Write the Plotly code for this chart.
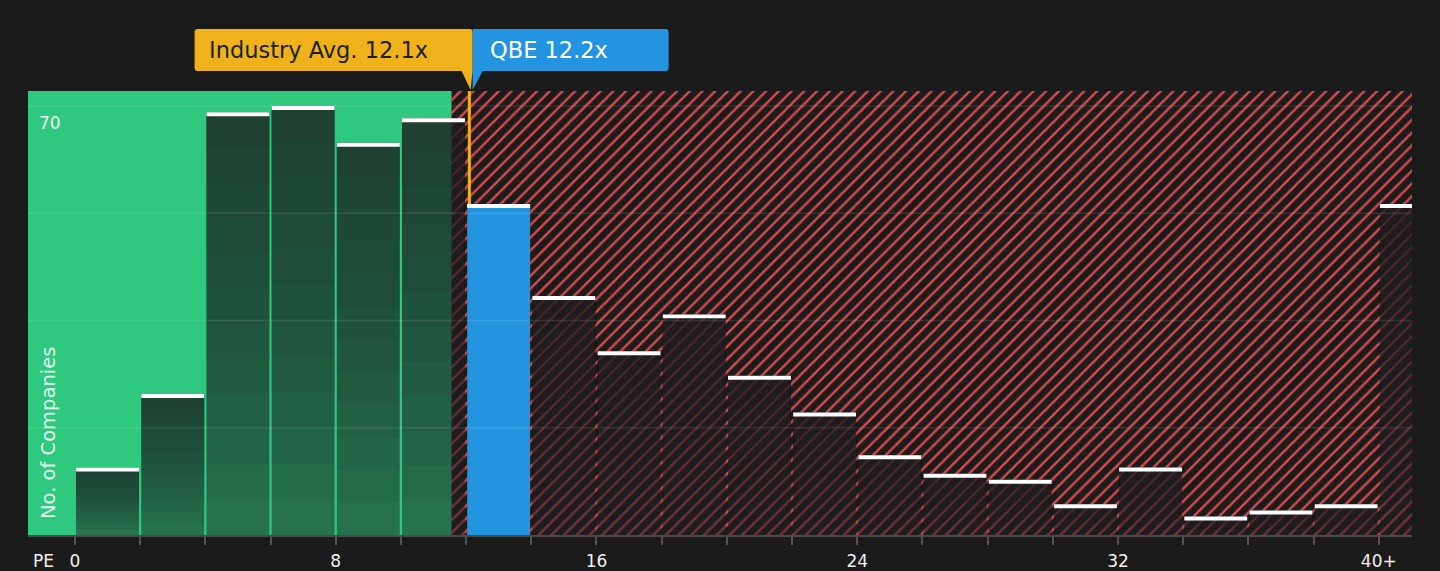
import plotly.graph_objects as go

# PE histogram, bins of width 2, last bin is 40+
bin_starts = list(range(0, 42, 2))
companies = [11, 23, 69, 70, 64, 68, 54, 39, 30, 36, 26, 20, 13, 10, 9, 5, 11, 3, 4, 5, 54]
tick_vals = [0, 8, 16, 24, 32, 40]
tick_text = ['0', '8', '16', '24', '32', '40+']
grid_vals = [17.5, 35, 52.5, 70]

industry_avg = 12.1
company_pe = 12.2
company_name = 'QBE'

BIN = 2
BAR_W = BIN * 0.965
X_RANGE = [-1.44, 41.02]
Y_RANGE = [0, 72.45]
GREEN_EDGE = 11.56
CAP = 0.65
LAYERS = 12  # nested layers give the bars a darker top

centers = [s + BIN / 2 for s in bin_starts]
company_bin = int(company_pe // BIN)

fig = go.Figure()

# hatched "overvalued" zone
fig.add_trace(go.Bar(
    x=[(GREEN_EDGE + X_RANGE[1]) / 2],
    y=[Y_RANGE[1]],
    width=[X_RANGE[1] - GREEN_EDGE],
    marker=dict(
        color='#1d1b1b',
        line=dict(width=0),
        pattern=dict(shape='/', fgcolor='#d24b4e', bgcolor='#1d1b1b',
                     size=9, solidity=0.27, fillmode='replace'),
    ),
    hoverinfo='skip',
    showlegend=False,
))

# bars: base layer plus thin translucent layers reaching the top
other_x = [c for i, c in enumerate(centers) if i != company_bin]
other_y = [v for i, v in enumerate(companies) if i != company_bin]
step_alpha = 1 - (0.46 ** (1 / (LAYERS - 1)))
for k in range(LAYERS):
    alpha = 0.51 if k == 0 else step_alpha
    fig.add_trace(go.Bar(
        x=other_x,
        y=[v * (1 - k / LAYERS) for v in other_y],
        base=[v * k / LAYERS for v in other_y],
        width=BAR_W,
        marker=dict(color='rgba(30,29,36,{:.4f})'.format(alpha), line=dict(width=0)),
        hoverinfo='skip',
        showlegend=False,
    ))

fig.add_trace(go.Bar(
    x=[centers[company_bin]],
    y=[companies[company_bin]],
    width=BAR_W,
    marker=dict(color='#2394e0', line=dict(width=0)),
    name=company_name,
    showlegend=False,
))

# white caps on top of each bar
fig.add_trace(go.Bar(
    x=centers,
    y=[CAP] * len(companies),
    base=[v - CAP for v in companies],
    width=BAR_W,
    marker=dict(color='white', line=dict(width=0)),
    customdata=companies,
    hovertemplate='%{customdata}<extra></extra>',
    showlegend=False,
))

shapes = [
    dict(type='rect', xref='x', yref='paper', x0=X_RANGE[0], x1=GREEN_EDGE, y0=0, y1=1,
         fillcolor='#2ec87e', line=dict(width=0), layer='below'),
]
for g in grid_vals:
    shapes.append(dict(type='line', xref='paper', yref='y', x0=0, x1=1, y0=g, y1=g,
                       line=dict(color='rgba(255,255,255,0.1)', width=1.5), layer='above'))

shapes.append(dict(type='line', xref='x', yref='y', x0=industry_avg, x1=industry_avg,
                   y0=companies[company_bin], y1=Y_RANGE[1],
                   line=dict(color='#f0b21a', width=3), layer='above'))

# label boxes with pointer tails (pixel offsets from the company PE at the top of the plot)
orange_path = ('M -275,62 L -3,62 Q 0,62 0,59 L 0,20 L -2,1 L -11,20 '
               'L -275,20 Q -278,20 -278,23 L -278,59 Q -278,62 -275,62 Z')
blue_path = ('M 0,62 L 193,62 Q 196,62 196,59 L 196,23 Q 196,20 193,20 '
             'L 10,20 L 0,1 L 0,62 Z')
shapes.append(dict(type='path', xref='x', yref='paper', xsizemode='pixel', ysizemode='pixel',
                   xanchor=company_pe, yanchor=1, path=orange_path,
                   fillcolor='#f0b21a', line=dict(width=0), layer='above'))
shapes.append(dict(type='path', xref='x', yref='paper', xsizemode='pixel', ysizemode='pixel',
                   xanchor=company_pe, yanchor=1, path=blue_path,
                   fillcolor='#2394e0', line=dict(width=0), layer='above'))

annotations = [
    dict(text='Industry Avg. {}x'.format(industry_avg), xref='x', yref='paper',
         x=company_pe, y=1, xanchor='left', yanchor='middle', xshift=-266, yshift=41,
         showarrow=False, font=dict(size=22.5, color='#1e1e1e')),
    dict(text='{} {}x'.format(company_name, company_pe), xref='x', yref='paper',
         x=company_pe, y=1, xanchor='left', yanchor='middle', xshift=15, yshift=41,
         showarrow=False, font=dict(size=22.5, color='white')),
    dict(text='70', xref='paper', yref='y', x=0, y=70, xanchor='left', yanchor='top',
         xshift=9, yshift=-5, showarrow=False, font=dict(size=17, color='#f0f0f0')),
    dict(text='PE', xref='paper', yref='paper', x=0, y=0, xanchor='left', yanchor='middle',
         xshift=3, yshift=-26, showarrow=False, font=dict(size=17, color='#f0f0f0')),
    dict(text='No. of Companies', xref='paper', yref='paper', x=0, y=0, textangle=-90,
         xanchor='center', yanchor='bottom', xshift=20, yshift=14, showarrow=False,
         font=dict(size=19.5, color='rgba(255,255,255,0.88)')),
]

fig.update_layout(
    width=1440,
    height=571,
    margin=dict(l=28, r=28, t=91, b=36),
    paper_bgcolor='#1b1b1b',
    plot_bgcolor='#1b1b1b',
    font=dict(family='DejaVu Sans', color='#f0f0f0'),
    barmode='overlay',
    shapes=shapes,
    annotations=annotations,
    xaxis=dict(
        range=X_RANGE,
        tickvals=tick_vals,
        ticktext=tick_text,
        ticks='outside',
        ticklen=8,
        tickwidth=1.5,
        tickcolor='#555555',
        minor=dict(dtick=BIN, tick0=0, ticks='outside', ticklen=8, tickwidth=1.5,
                   tickcolor='#555555', showgrid=False),
        ticklabelstandoff=2,
        tickfont=dict(size=17, color='#f0f0f0'),
        showline=True,
        linecolor='#4a4a4a',
        linewidth=2,
        showgrid=False,
        zeroline=False,
        automargin=False,
        fixedrange=True,
    ),
    yaxis=dict(
        range=Y_RANGE,
        showticklabels=False,
        showgrid=False,
        zeroline=False,
        automargin=False,
        fixedrange=True,
    ),
)

fig.write_html(
    'out.html',
    config={'displayModeBar': False},
    post_script="document.body.style.margin='0';document.body.style.background='#1b1b1b';",
)
